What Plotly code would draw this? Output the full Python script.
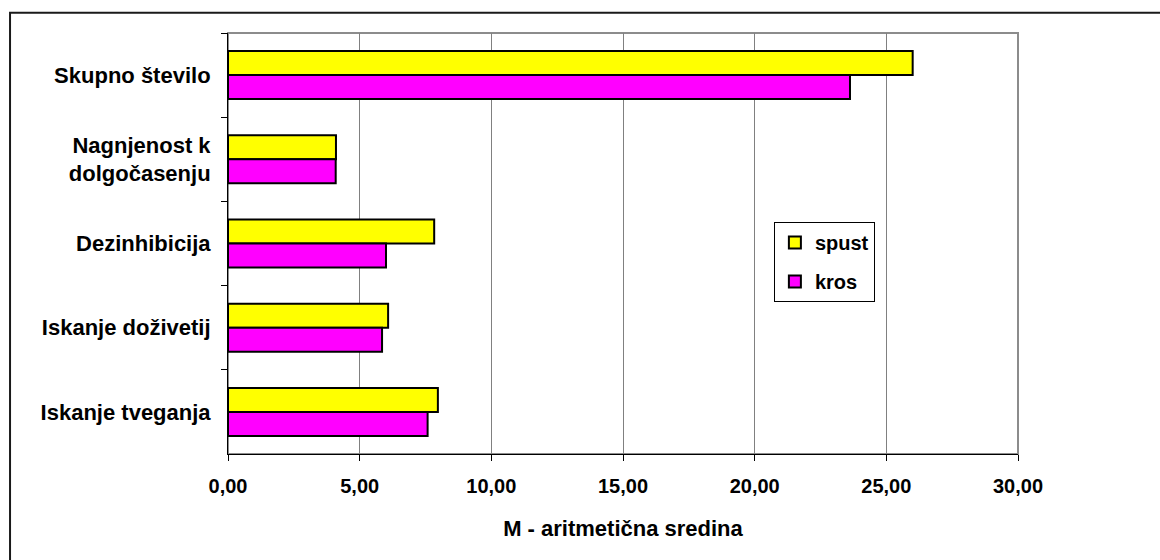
import plotly.graph_objects as go

# Sensation-seeking subscales, mean scores by discipline
categories = [
    "Skupno število",
    "Nagnjenost k<br>dolgočasenju",
    "Dezinhibicija",
    "Iskanje doživetij",
    "Iskanje tveganja",
]
spust = [26.00, 4.10, 7.83, 6.08, 7.97]
kros = [23.62, 4.09, 6.00, 5.85, 7.58]

x_ticks = [0, 5, 10, 15, 20, 25, 30]
x_title = "M - aritmetična sredina"

FONT = "Liberation Sans, Arial, sans-serif"

fig = go.Figure()
fig.add_trace(go.Bar(
    y=categories, x=spust, name="spust", orientation="h",
    marker=dict(color="#FFFF00", line=dict(color="#000000", width=2)),
    legendgroup="a",
))
fig.add_trace(go.Bar(
    y=categories, x=kros, name="kros", orientation="h",
    marker=dict(color="#FF00FF", line=dict(color="#000000", width=2)),
    legendgroup="b",
))

# outer chart frame and plot-area border
shapes = [
    dict(type="rect", xref="paper", yref="paper",
         x0=-0.2759, x1=1.20, y0=-0.28, y1=1.048,
         line=dict(color="#1a1a1a", width=2), layer="below"),
    dict(type="rect", xref="paper", yref="paper",
         x0=0, x1=1, y0=0, y1=1,
         line=dict(color="#8c8c8c", width=2), layer="below"),
]

fig.update_layout(
    width=1160, height=560,
    margin=dict(l=228, r=142, t=33, b=106),
    paper_bgcolor="white", plot_bgcolor="white",
    barmode="group", bargap=0.43, bargroupgap=0,
    separators=",.",
    font=dict(family=FONT, color="black"),
    shapes=shapes,
    legend=dict(
        x=0.691, y=0.551, xanchor="left", yanchor="top",
        bgcolor="white", bordercolor="black", borderwidth=1,
        font=dict(family=FONT, size=20, weight="bold"),
        traceorder="grouped", tracegroupgap=10,
    ),
    xaxis=dict(
        range=[0, 30], tickvals=x_ticks, tickformat=".2f",
        showgrid=True, gridcolor="#808080", gridwidth=1,
        zeroline=False,
        showline=True, linecolor="#000000", linewidth=1,
        ticks="outside", ticklen=6, tickcolor="#000000",
        tickfont=dict(family=FONT, size=20, weight="bold"),
        ticklabelstandoff=8,
        title=dict(text=x_title, standoff=24,
                   font=dict(family=FONT, size=22, weight="bold")),
        fixedrange=True,
    ),
    yaxis=dict(
        type="category", autorange="reversed",
        categoryorder="array", categoryarray=categories,
        showgrid=False, zeroline=False,
        showline=True, linecolor="#000000", linewidth=1,
        ticks="outside", ticklen=6, tickcolor="#000000",
        tickson="boundaries",
        tickfont=dict(family=FONT, size=22, weight="bold"),
        ticklabelstandoff=12,
        fixedrange=True,
    ),
)

fig.write_html("out.html")
